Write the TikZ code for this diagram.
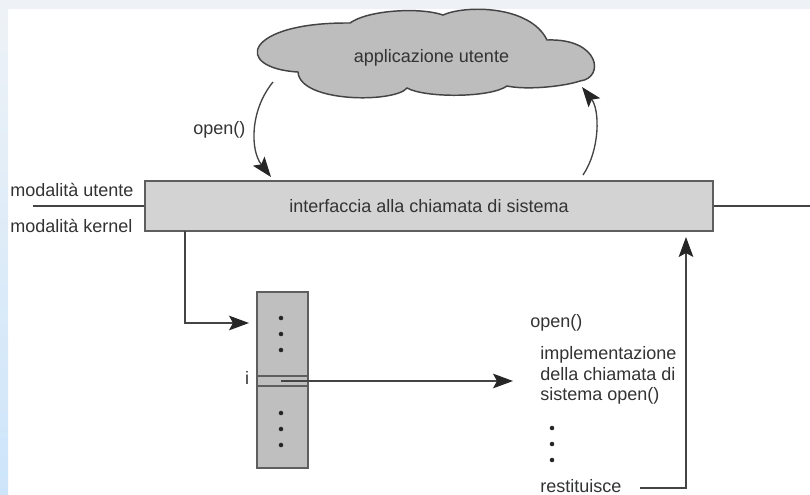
\documentclass[tikz,border=0pt]{standalone}
\usepackage{fontspec}
\setmainfont{Liberation Sans}
\usetikzlibrary{arrows.meta}
\definecolor{ink}{HTML}{333333}
\definecolor{wire}{HTML}{444444}
\definecolor{edge}{HTML}{5E5E5E}
\definecolor{boxfill}{HTML}{D3D3D3}
\definecolor{cloudfill}{HTML}{BDBDBD}
\definecolor{tabfill}{HTML}{BFBFBF}
\definecolor{bandtop}{HTML}{EEF2F6}
\definecolor{stripbot}{HTML}{CDE5FA}
\tikzset{
  lbl/.style={inner sep=0pt, text=ink, font=\fontsize{13.5}{15.4}\selectfont},
  wireline/.style={draw=wire, line width=1pt},
  arr/.style={wireline, -{Stealth[length=15pt,width=11pt,inset=3pt,color=black!85]}},
  callbox/.style={draw=edge, line width=1.1pt, fill=boxfill, minimum width=426pt,
    minimum height=37.5pt, inner sep=0pt, text=ink, font=\fontsize{13.5}{15.4}\selectfont},
  tablebox/.style={draw=edge, line width=1.1pt, fill=tabfill, minimum width=38.25pt,
    minimum height=132pt, inner sep=0pt},
  dot/.style={fill=black!85}
}
\begin{document}
\begin{tikzpicture}[x=0.75pt,y=-0.75pt]
\useasboundingbox (0,0) rectangle (810,494);
% page background
\fill[white] (0,0) rectangle (810,494);
\fill[bandtop] (0,0) rectangle (810,9);
\shade[top color=bandtop, bottom color=stripbot] (0,0) rectangle (8,494);

% user application cloud
\path[draw=wire, line width=1.1pt, fill=cloudfill]
  (298,72) .. controls (232,68) and (244,22) .. (350,23)
  .. controls (368,10) and (420,7) .. (443,15)
  .. controls (465,5) and (530,5) .. (547,40)
  .. controls (600,38) and (605,78) .. (580,81)
  .. controls (562,87) and (525,90) .. (507,86)
  .. controls (490,98) and (425,98) .. (407,88)
  .. controls (395,103) and (300,103) .. (298,72) -- cycle;
\node[lbl] (app) at (431.5,57.5) {applicazione utente};

% system call interface
\node[callbox] (sci) at (429,206) {interfaccia alla chiamata di sistema};
\node[lbl, anchor=base west] (umode) at (10,196) {modalità utente};
\node[lbl, anchor=base west] (kmode) at (10,232) {modalità kernel};
\coordinate (lineL) at (33,206);
\coordinate (lineR) at (810,206);
\draw[wireline] (lineL) -- (sci.west);
\draw[wireline] (sci.east) -- (lineR);

% call and return between application and interface
\coordinate (callA) at (273,82);
\coordinate (callB) at (271,177);
\coordinate (retA) at (583,175);
\coordinate (retB) at (582,87);
\draw[arr] (callA) .. controls (250,110) and (250,150) .. (callB);
\draw[arr] (retA) .. controls (600,150) and (600,110) .. (retB);
\node[lbl, anchor=base west] (openl) at (193,134) {open()};

% system call table
\node[tablebox] (tab) at (282.5,380) {};
\draw[edge, line width=0.9pt] (tab.west |- 0,376) -- (tab.east |- 0,376);
\draw[edge, line width=0.9pt] (tab.west |- 0,386) -- (tab.east |- 0,386);
\foreach \y in {318,334,350,413,429,445} \fill[dot] (281,\y) circle[radius=1.7pt];
\node[lbl, anchor=base] (idx) at (247,384) {i};
\coordinate (k1) at (185,231);
\coordinate (k2) at (249,323);
\draw[arr] (k1) |- (k2);

% open() implementation
\node[lbl, anchor=base west] (openr) at (530,327) {open()};
\node[lbl, anchor=base west] (impl1) at (540,359) {implementazione};
\node[lbl, anchor=base west] (impl2) at (540,380) {della chiamata di};
\node[lbl, anchor=base west] (impl3) at (540,400) {sistema open()};
\foreach \y in {428,444,460} \fill[dot] (552,\y) circle[radius=1.7pt];
\node[lbl, anchor=base west] (ret) at (540,492) {restituisce};
\coordinate (tabout) at (281,381);
\coordinate (implin) at (513,381);
\draw[arr] (tabout) -- (implin);
\coordinate (r1) at (640,488);
\coordinate (r2) at (686,237);
\draw[arr] (r1) -| (r2);
\end{tikzpicture}
\end{document}
